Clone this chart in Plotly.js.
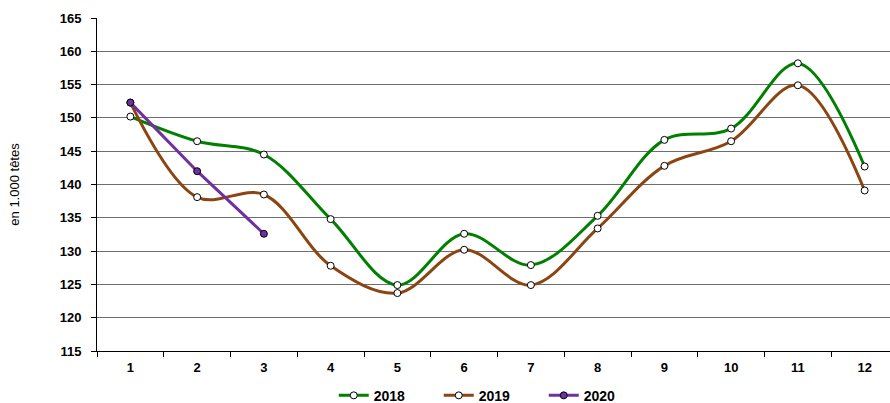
<!DOCTYPE html>
<html>
<head>
<meta charset="utf-8">
<script src="https://cdn.plot.ly/plotly-3.0.1.min.js"></script>
<style>html,body{margin:0;padding:0;background:#fff;}#chart{width:890px;height:403px;}</style>
</head>
<body>
<div id="chart"></div>
<script>
const months = ['1','2','3','4','5','6','7','8','9','10','11','12'];
const v2018 = [150.2, 146.5, 144.5, 134.8, 124.9, 132.6, 127.9, 135.3, 146.7, 148.4, 158.2, 142.7];
const v2019 = [152.3, 138.1, 138.5, 127.8, 123.7, 130.2, 124.9, 133.4, 142.8, 146.5, 154.9, 139.1];
const months2020 = ['1','2','3'];
const v2020 = [152.3, 142.0, 132.6];

const whiteMarker = {symbol:'circle', size:7, color:'#ffffff', line:{color:'#000000', width:1}};
const traces = [
  {x: months, y: v2018, name: '2018', type: 'scatter', mode: 'lines+markers',
   line: {color: '#008000', width: 3, shape: 'spline', smoothing: 1}, marker: whiteMarker},
  {x: months, y: v2019, name: '2019', type: 'scatter', mode: 'lines+markers',
   line: {color: '#8B4513', width: 3, shape: 'spline', smoothing: 1}, marker: whiteMarker},
  {x: months2020, y: v2020, name: '2020', type: 'scatter', mode: 'lines+markers',
   line: {color: '#7030A0', width: 3}, marker: {symbol:'circle', size:7, color:'#7030A0', line:{color:'#000000', width:1}}}
];
const layout = {
  width: 890, height: 403,
  margin: {l: 97, r: 0, t: 18, b: 52},
  paper_bgcolor: '#ffffff', plot_bgcolor: '#ffffff',
  font: {family: 'Liberation Sans, Arial, sans-serif', color: '#000000'},
  showlegend: true,
  legend: {orientation: 'h', x: 0.375, xanchor: 'left', xref: 'container',
           y: 0.018, yanchor: 'middle', yref: 'container', entrywidth: 60, entrywidthmode: 'pixels',
           font: {size: 14, family: 'Liberation Sans, Arial, sans-serif', weight: 'bold'}},
  xaxis: {type: 'category', categoryorder: 'array', categoryarray: months,
          range: [-0.5, 11.38], showgrid: false, zeroline: false,
          showline: true, linecolor: '#000000', linewidth: 1,
          ticks: 'outside', ticklen: 5, tickcolor: '#000000', tickson: 'boundaries',
          ticklabelstandoff: 4,
          tickfont: {size: 13, weight: 'bold'}},
  yaxis: {range: [115, 165], dtick: 5, tick0: 115, showgrid: true, gridcolor: '#6e6e6e', gridwidth: 1,
          zeroline: false, showline: true, linecolor: '#000000', linewidth: 1,
          ticks: 'outside', ticklen: 5, tickcolor: '#000000', ticklabelstandoff: 7,
          tickfont: {size: 13, weight: 'bold'},
          title: {text: 'en 1.000 têtes', font: {size: 13}, standoff: 37}}
};
Plotly.newPlot('chart', traces, layout, {displayModeBar: false, staticPlot: true});
</script>
</body>
</html>
